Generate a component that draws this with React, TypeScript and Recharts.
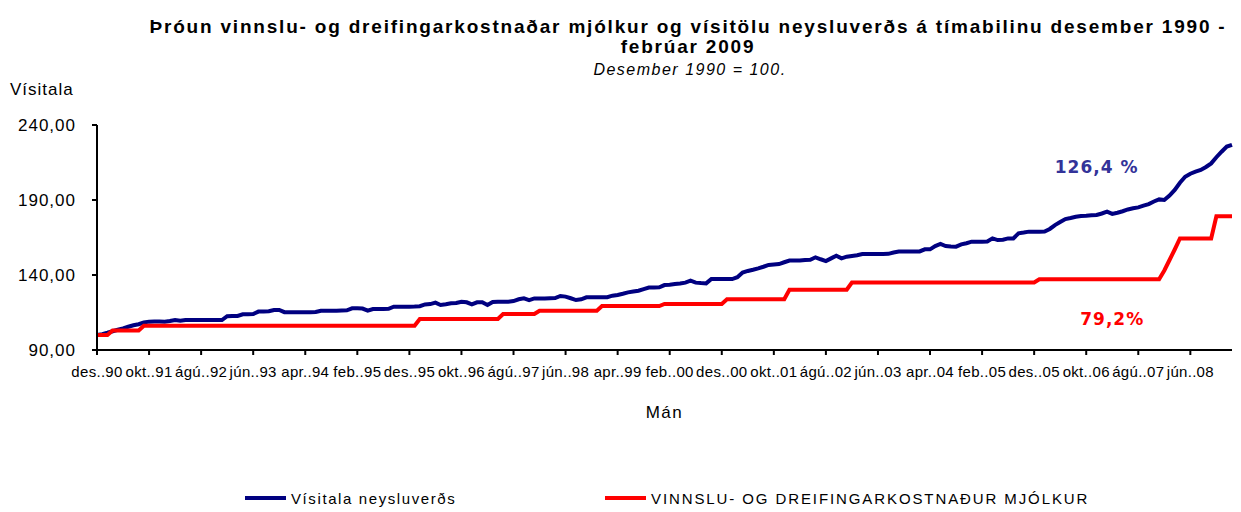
import React from "react";
import { LineChart, Line, XAxis, YAxis, Legend, ReferenceDot } from "recharts";

const monthNames = ['jan', 'feb', 'mar', 'apr', 'maí', 'jún', 'júl', 'ágú', 'sep', 'okt', 'nóv', 'des'];

// des 1990 .. feb 2009, one entry per month
const months: string[] = [];
for (let i = 0; i < 219; i++) {
  const m = (11 + i) % 12;
  const yr = 1990 + Math.floor((11 + i) / 12);
  months.push(`${monthNames[m]}..${String(yr % 100).padStart(2, '0')}`);
}

// Vísitala neysluverðs (des 1990 = 100)
const cpi = [
  100, 100.6, 101.5, 102.5, 103.5, 104.4, 105.5, 106.5, 107.2, 108.3,
  108.9, 109, 109, 108.9, 109.3, 110, 109.5, 110, 110, 110,
  110, 110, 110, 110, 110, 112.5, 112.7, 112.7, 113.8, 113.8,
  114, 115.6, 115.6, 115.8, 116.7, 116.7, 115.2, 115.1, 115.1, 115.1,
  115.1, 115.1, 115.3, 116.2, 116.2, 116.2, 116.2, 116.4, 116.5, 117.8,
  117.8, 117.6, 116.2, 117.3, 117.3, 117.3, 117.5, 118.9, 118.9, 118.9,
  118.9, 119, 119.2, 120.4, 120.6, 121.6, 120, 120.5, 121.1, 121.3,
  122.2, 121.8, 120.4, 121.8, 121.8, 120, 122, 122.2, 122.2, 122.2,
  122.6, 123.8, 124.4, 123.3, 124.4, 124.4, 124.4, 124.5, 124.6, 126,
  125.6, 124.5, 123.3, 123.8, 125.1, 125.1, 125.1, 125.1, 125.2, 126.2,
  126.7, 127.5, 128.4, 129, 129.5, 130.6, 131.6, 131.6, 131.8, 133.3,
  133.5, 134, 134.3, 134.9, 136.2, 134.9, 134.6, 134.4, 137.3, 137.3,
  137.3, 137.3, 137.3, 138.5, 141.6, 142.7, 143.5, 144.4, 145.5, 146.7,
  147, 147.3, 148.5, 149.6, 149.6, 149.6, 150, 150.2, 151.8, 150.5,
  149.3, 151.1, 152.9, 151.1, 152.2, 152.7, 153.2, 154, 154, 154,
  154, 154, 154.1, 155, 155.6, 155.6, 155.6, 155.6, 155.7, 157.1,
  157.1, 159.3, 160.7, 159.3, 159, 158.9, 160.4, 161.2, 162.2, 162.2,
  162.2, 162.3, 164.4, 163.3, 163.5, 164.4, 164.4, 167.8, 168.3, 168.9,
  168.9, 168.9, 169, 170.7, 173.3, 175.3, 177.3, 178, 178.8, 179.3,
  179.5, 179.8, 180, 181, 182.2, 180.7, 181.5, 182.5, 183.7, 184.5,
  185.1, 186.2, 187.3, 189, 190.4, 190, 193, 196.7, 201.5, 205.5,
  207.5, 208.9, 210, 212, 214.4, 218.5, 222.2, 225.6, 226.8,
];

// Vinnslu- og dreifingarkostnaður mjólkur (des 1990 = 100)
const milk = [
  100, 100, 100, 103, 103, 103, 103, 103, 103, 106.2,
  106.2, 106.2, 106.2, 106.2, 106.2, 106.2, 106.2, 106.2, 106.2, 106.2,
  106.2, 106.2, 106.2, 106.2, 106.2, 106.2, 106.2, 106.2, 106.2, 106.2,
  106.2, 106.2, 106.2, 106.2, 106.2, 106.2, 106.2, 106.2, 106.2, 106.2,
  106.2, 106.2, 106.2, 106.2, 106.2, 106.2, 106.2, 106.2, 106.2, 106.2,
  106.2, 106.2, 106.2, 106.2, 106.2, 106.2, 106.2, 106.2, 106.2, 106.2,
  106.2, 106.2, 110.7, 110.7, 110.7, 110.7, 110.7, 110.7, 110.7, 110.7,
  110.7, 110.7, 110.7, 110.7, 110.7, 110.7, 110.7, 110.7, 114, 114,
  114, 114, 114, 114, 114, 116.2, 116.2, 116.2, 116.2, 116.2,
  116.2, 116.2, 116.2, 116.2, 116.2, 116.2, 116.2, 119.3, 119.3, 119.3,
  119.3, 119.3, 119.3, 119.3, 119.3, 119.3, 119.3, 119.3, 119.3, 120.7,
  120.7, 120.7, 120.7, 120.7, 120.7, 120.7, 120.7, 120.7, 120.7, 120.7,
  120.7, 123.8, 123.8, 123.8, 123.8, 123.8, 123.8, 123.8, 123.8, 123.8,
  123.8, 123.8, 123.8, 130.2, 130.2, 130.2, 130.2, 130.2, 130.2, 130.2,
  130.2, 130.2, 130.2, 130.2, 130.2, 135, 135, 135, 135, 135,
  135, 135, 135, 135, 135, 135, 135, 135, 135, 135,
  135, 135, 135, 135, 135, 135, 135, 135, 135, 135,
  135, 135, 135, 135, 135, 135, 135, 135, 135, 135,
  135, 137.2, 137.2, 137.2, 137.2, 137.2, 137.2, 137.2, 137.2, 137.2,
  137.2, 137.2, 137.2, 137.2, 137.2, 137.2, 137.2, 137.2, 137.2, 137.2,
  137.2, 137.2, 137.2, 137.2, 137.2, 143, 150, 157, 164.4, 164.4,
  164.4, 164.4, 164.4, 164.4, 164.4, 179.2, 179.2, 179.2, 179.2,
];

const yTicks = [90, 140, 190, 240];

const data = months.map((m, i) => ({ month: m, cpi: cpi[i], milk: milk[i] }));

const FONT = '"Liberation Sans", Arial, sans-serif';

const XTick = (props: any) => {
  const { x, y, payload } = props;
  return (
    <text x={x} y={y + 20} textAnchor="middle" fontSize={15} fontFamily={FONT} fill="#000" letterSpacing={0.3}>
      {payload.value}
    </text>
  );
};

const YTick = (props: any) => {
  const { y, payload } = props;
  return (
    <text x={76} y={y + 6} textAnchor="end" fontSize={17} fontFamily={FONT} fill="#000" letterSpacing={1}>
      {payload.value.toFixed(2).replace('.', ',')}
    </text>
  );
};

const LegendBox = () => (
  <div style={{ height: 20, width: 1241, position: 'relative', fontFamily: FONT, fontSize: 15, color: '#000' }}>
    <div style={{ position: 'absolute', left: 245, top: 0, display: 'flex', alignItems: 'center', height: 20 }}>
      <span style={{ display: 'inline-block', width: 41, height: 4, background: '#000080', marginRight: 5 }} />
      <span style={{ letterSpacing: 1.6 }}>Vísitala neysluverðs</span>
    </div>
    <div style={{ position: 'absolute', left: 605, top: 0, display: 'flex', alignItems: 'center', height: 20 }}>
      <span style={{ display: 'inline-block', width: 41, height: 4, background: '#ff0000', marginRight: 5 }} />
      <span style={{ letterSpacing: 1.9 }}>VINNSLU- OG DREIFINGARKOSTNAÐUR MJÓLKUR</span>
    </div>
  </div>
);

export default function App() {
  return (
    <div style={{ position: 'absolute', left: 0, top: 0, width: 1241, height: 512, background: '#fff', fontFamily: FONT }}>
      <div style={{ position: 'absolute', left: 0, width: 1376, top: 17, textAlign: 'center', fontWeight: 700, fontSize: 19, lineHeight: '20px', letterSpacing: 1.8 }}>
        Þróun vinnslu- og dreifingarkostnaðar  mjólkur og vísitölu neysluverðs á tímabilinu desember 1990 -
        <br />
        febrúar 2009
      </div>
      <div style={{ position: 'absolute', left: 0, width: 1380, top: 61, textAlign: 'center', fontStyle: 'italic', fontSize: 16, letterSpacing: 1.5 }}>
        Desember 1990 = 100.
      </div>
      <div style={{ position: 'absolute', left: 10, top: 80, fontSize: 17, letterSpacing: 1 }}>Vísitala</div>
      <LineChart width={1241} height={512} data={data} margin={{ top: 125, right: 9, bottom: 4, left: 0 }}>
        <XAxis
          dataKey="month"
          interval={9}
          tick={<XTick />}
          tickSize={5}
          height={138}
          axisLine={{ stroke: '#000', strokeWidth: 2 }}
          tickLine={{ stroke: '#000', strokeWidth: 2 }}
          label={{ value: 'Mán', position: 'insideBottom', offset: 70, fontSize: 17, fill: '#000', fontFamily: FONT, letterSpacing: 1.5 }}
        />
        <YAxis
          domain={[90, 240]}
          ticks={yTicks}
          width={97}
          tick={<YTick />}
          tickSize={5}
          axisLine={{ stroke: '#000', strokeWidth: 2 }}
          tickLine={{ stroke: '#000', strokeWidth: 2 }}
        />
        <Legend verticalAlign="bottom" content={<LegendBox />} />
        <Line type="linear" dataKey="cpi" name="Vísitala neysluverðs" stroke="#000080" strokeWidth={4} dot={false} isAnimationActive={false} />
        <Line type="linear" dataKey="milk" name="VINNSLU- OG DREIFINGARKOSTNAÐUR MJÓLKUR" stroke="#ff0000" strokeWidth={4} dot={false} isAnimationActive={false} />
        <ReferenceDot x={months[192]} y={212} r={0} label={{ value: '126,4 %', fill: '#333399', fontSize: 17, fontWeight: 700, fontFamily: '"DejaVu Sans", sans-serif', letterSpacing: 1 }} />
        <ReferenceDot x={months[195]} y={111} r={0} label={{ value: '79,2%', fill: '#ff0000', fontSize: 17, fontWeight: 700, fontFamily: '"DejaVu Sans", sans-serif', letterSpacing: 1 }} />
      </LineChart>
    </div>
  );
}
